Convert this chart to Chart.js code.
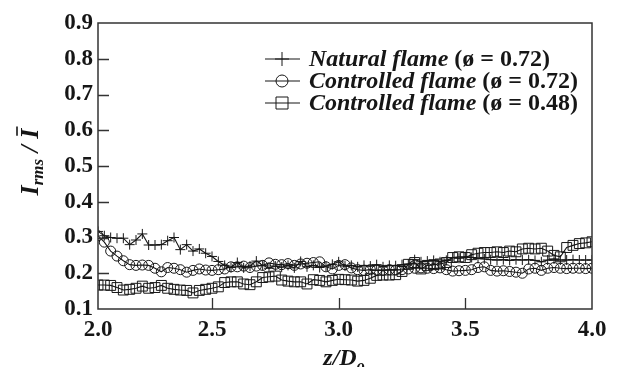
<!DOCTYPE html>
<html><head><meta charset="utf-8">
<script src="https://cdn.jsdelivr.net/npm/chart.js@4/dist/chart.umd.min.js"></script>
<style>html,body{margin:0;padding:0;background:#fff}#wrap{width:617px;height:367px;position:relative;overflow:hidden}</style>
</head><body><div id="wrap"><canvas id="c" width="617" height="367"></canvas></div>
<script>
// z/Do positions of the samples
const zD = [2.050,2.075,2.100,2.125,2.150,2.175,2.200,2.225,2.250,2.275,2.300,2.325,2.350,2.375,2.400,2.425,2.450,2.475,2.500,2.525,2.550,2.575,2.600,2.625,2.650,2.675,2.700,2.725,2.750,2.775,2.800,2.825,2.850,2.875,2.900,2.925,2.950,2.975,3.000,3.025,3.050,3.075,3.100,3.125,3.150,3.175,3.200,3.225,3.250,3.275,3.300,3.325,3.350,3.375,3.400,3.425,3.450,3.475,3.500,3.525,3.550,3.575,3.600,3.625,3.650,3.675,3.700,3.725,3.750,3.775,3.800,3.825,3.850,3.875,3.900,3.925,3.950,3.975,4.000];
// Natural flame (phi = 0.72)
const naturalFlame = [0.317,0.305,0.300,0.298,0.298,0.280,0.293,0.310,0.279,0.279,0.280,0.291,0.300,0.266,0.280,0.262,0.268,0.256,0.247,0.233,0.222,0.216,0.230,0.215,0.220,0.234,0.222,0.214,0.220,0.217,0.222,0.215,0.233,0.218,0.222,0.216,0.220,0.225,0.232,0.220,0.222,0.218,0.222,0.220,0.224,0.218,0.222,0.221,0.224,0.226,0.238,0.232,0.234,0.236,0.232,0.236,0.244,0.242,0.246,0.244,0.242,0.240,0.238,0.237,0.238,0.236,0.238,0.237,0.238,0.236,0.232,0.237,0.240,0.237,0.237,0.238,0.237,0.237,0.237];
// Controlled flame (phi = 0.72)
const controlled072 = [0.305,0.287,0.262,0.248,0.235,0.224,0.222,0.223,0.222,0.214,0.204,0.216,0.214,0.210,0.203,0.208,0.212,0.209,0.208,0.210,0.212,0.218,0.218,0.220,0.216,0.220,0.222,0.229,0.225,0.224,0.227,0.222,0.226,0.228,0.230,0.232,0.218,0.212,0.222,0.224,0.215,0.210,0.208,0.210,0.209,0.208,0.210,0.209,0.210,0.212,0.214,0.215,0.214,0.213,0.215,0.210,0.206,0.207,0.208,0.210,0.216,0.218,0.208,0.206,0.207,0.205,0.203,0.200,0.212,0.214,0.208,0.214,0.216,0.214,0.213,0.214,0.214,0.213,0.214];
// Controlled flame (phi = 0.48)
const controlled048 = [0.167,0.167,0.166,0.160,0.153,0.155,0.158,0.164,0.158,0.160,0.166,0.158,0.155,0.153,0.152,0.145,0.152,0.155,0.158,0.162,0.174,0.176,0.176,0.170,0.168,0.176,0.188,0.190,0.192,0.181,0.178,0.176,0.176,0.170,0.182,0.180,0.176,0.180,0.183,0.182,0.181,0.178,0.180,0.186,0.194,0.195,0.195,0.196,0.205,0.225,0.230,0.212,0.222,0.224,0.226,0.230,0.244,0.246,0.244,0.252,0.256,0.258,0.258,0.260,0.258,0.262,0.260,0.268,0.270,0.268,0.270,0.262,0.250,0.246,0.272,0.278,0.283,0.285,0.288];

const seriesNames = ['Natural flame', 'Controlled flame', 'Controlled flame'];
const seriesPhi = [' (\u00f8 = 0.72)', ' (\u00f8 = 0.72)', ' (\u00f8 = 0.48)'];
const seriesMarkers = ['cross', 'circle', 'rect'];
const xTickValues = [2.05, 2.5, 3.0, 3.5, 4.0];
const xTickLabels = ['2.0', '2.5', '3.0', '3.5', '4.0'];
const yTickValues = [0.1, 0.2, 0.3, 0.4, 0.5, 0.6, 0.7, 0.8, 0.9];

const INK = '#161616';
const SERIF = '"Liberation Serif", "Times New Roman", serif';

function pts(ys) { return zD.map((x, i) => ({ x: x, y: ys[i] })); }

function ds(label, ys, style, r) {
  return {
    label: label, data: pts(ys), borderColor: INK, borderWidth: 1.1,
    pointStyle: style, pointRadius: r, pointBorderColor: INK, pointBorderWidth: 1,
    pointBackgroundColor: 'rgba(0,0,0,0)', fill: false, tension: 0
  };
}

function drawMarker(ctx, style, x, y, s) {
  ctx.beginPath();
  if (style === 'cross') {
    ctx.moveTo(x - s, y); ctx.lineTo(x + s, y);
    ctx.moveTo(x, y - s); ctx.lineTo(x, y + s);
  } else if (style === 'circle') {
    ctx.arc(x, y, s, 0, Math.PI * 2);
  } else {
    ctx.rect(x - s, y - s, 2 * s, 2 * s);
  }
  ctx.stroke();
}

const framePlugin = {
  id: 'frame',
  afterDraw(chart) {
    const ctx = chart.ctx, a = chart.chartArea;
    const xs = chart.scales.x, ys = chart.scales.y;
    ctx.save();
    ctx.strokeStyle = '#333';
    ctx.lineWidth = 1.5;
    ctx.strokeRect(a.left, a.top, a.right - a.left, a.bottom - a.top);
    ctx.lineWidth = 1.3;
    ctx.beginPath();
    yTickValues.forEach(v => {
      const p = Math.round(ys.getPixelForValue(v)) + 0.5;
      if (p > a.top + 2 && p < a.bottom - 2) { ctx.moveTo(a.left, p); ctx.lineTo(a.left + 11, p); }
    });
    xTickValues.forEach(v => {
      const p = Math.round(xs.getPixelForValue(v)) + 0.5;
      if (p > a.left + 2 && p < a.right - 2) { ctx.moveTo(p, a.bottom); ctx.lineTo(p, a.bottom - 11); }
    });
    ctx.stroke();

    // legend
    const lx0 = 265, lx1 = 300, mx = 282, tx = 309;
    ctx.textBaseline = 'middle';
    ctx.textAlign = 'left';
    ctx.fillStyle = INK;
    seriesNames.forEach((name, i) => {
      const y = 59 + i * 22;
      ctx.strokeStyle = INK; ctx.lineWidth = 1.2;
      ctx.beginPath(); ctx.moveTo(lx0, y); ctx.lineTo(lx1, y); ctx.stroke();
      ctx.lineWidth = 1;
      drawMarker(ctx, seriesMarkers[i], mx, y, seriesMarkers[i] === 'cross' ? 7 : 6);
      ctx.font = 'italic bold 24px ' + SERIF;
      ctx.fillText(name, tx, y + 1);
      const w = ctx.measureText(name).width;
      ctx.font = 'bold 24px ' + SERIF;
      ctx.fillText(seriesPhi[i], tx + w, y + 1);
    });

    // y axis title: I_rms / I-bar, rotated
    ctx.save();
    ctx.translate(38, 162);
    ctx.rotate(-Math.PI / 2);
    ctx.textBaseline = 'alphabetic';
    const big = 'italic bold 26px ' + SERIF, sub = 'italic bold 17px ' + SERIF;
    const parts = [['I', big, 0], ['rms', sub, 5], [' / ', big, 0], ['I', big, 0]];
    let total = 0;
    parts.forEach(p => { ctx.font = p[1]; total += ctx.measureText(p[0]).width; });
    let cx = -total / 2;
    parts.forEach((p, k) => {
      ctx.font = p[1];
      ctx.fillText(p[0], cx, p[2]);
      const w = ctx.measureText(p[0]).width;
      if (k === 3) {
        ctx.lineWidth = 1.6; ctx.strokeStyle = INK;
        ctx.beginPath(); ctx.moveTo(cx + 3, -21); ctx.lineTo(cx + w + 2, -21); ctx.stroke();
      }
      cx += w;
    });
    ctx.restore();

    // x axis title: z/D_o
    ctx.textBaseline = 'alphabetic';
    ctx.font = 'italic bold 24px ' + SERIF;
    const main = 'z/D';
    const mw = ctx.measureText(main).width;
    ctx.font = 'italic bold 16px ' + SERIF;
    const sw = ctx.measureText('o').width;
    const sx = 344 - (mw + sw) / 2;
    ctx.font = 'italic bold 24px ' + SERIF;
    ctx.fillText(main, sx, 365);
    ctx.font = 'italic bold 16px ' + SERIF;
    ctx.fillText('o', sx + mw, 371);
    ctx.restore();
  }
};

new Chart(document.getElementById('c'), {
  type: 'line',
  data: {
    datasets: [
      ds(seriesNames[0] + seriesPhi[0], naturalFlame, 'cross', 5),
      ds(seriesNames[1] + seriesPhi[1], controlled072, 'circle', 5),
      ds(seriesNames[2] + seriesPhi[2], controlled048, 'rect', 7)
    ]
  },
  options: {
    responsive: false, animation: false, devicePixelRatio: 1,
    layout: { padding: { left: 0, top: 23, right: 25, bottom: 0 } },
    plugins: { legend: { display: false }, tooltip: { enabled: false } },
    scales: {
      x: {
        type: 'linear', min: 2.05, max: 4.0,
        afterBuildTicks: s => { s.ticks = xTickValues.map(v => ({ value: v })); },
        afterFit: s => { s.height = 58; },
        grid: { display: false, drawTicks: false },
        border: { display: false },
        ticks: {
          padding: 7, color: INK, maxRotation: 0, autoSkip: false,
          font: { family: SERIF, size: 23, weight: 'bold' },
          callback: (v, i) => xTickLabels[i]
        }
      },
      y: {
        type: 'linear', min: 0.1, max: 0.9,
        afterBuildTicks: s => { s.ticks = yTickValues.map(v => ({ value: v })); },
        afterFit: s => { s.width = 98; },
        grid: { display: false, drawTicks: false },
        border: { display: false },
        ticks: {
          padding: 5, color: INK, autoSkip: false,
          font: { family: SERIF, size: 23, weight: 'bold' },
          callback: v => v.toFixed(1)
        }
      }
    }
  },
  plugins: [framePlugin]
});
</script></body></html>
